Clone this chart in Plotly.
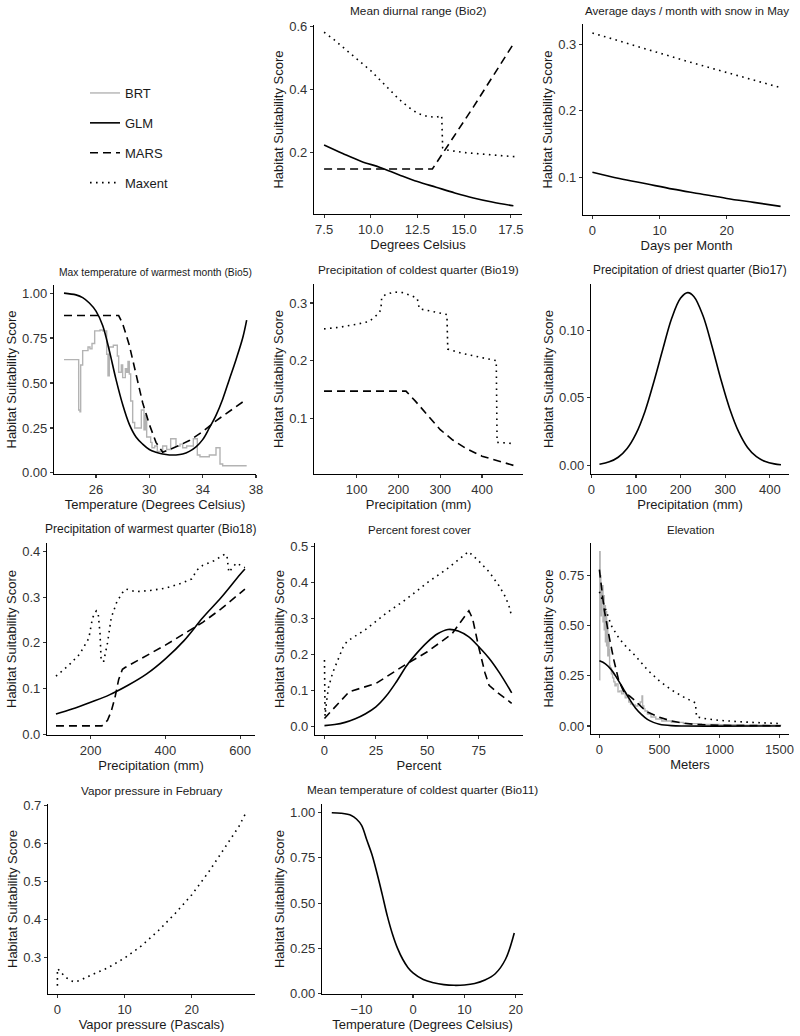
import plotly.graph_objects as go

# ======================= DATA =======================
# Panel: Mean diurnal range (Bio2)
bio2_glm_x = [7.5, 8.5, 9.5, 10.5, 11.5, 12.5, 13.5, 14.5, 15.5, 16.5, 17.64]
bio2_glm_y = [0.224, 0.197, 0.172, 0.153, 0.130, 0.108, 0.090, 0.072, 0.056, 0.043, 0.031]
bio2_mars_x = [7.5, 13.3, 15.5, 17.64]
bio2_mars_y = [0.148, 0.148, 0.345, 0.545]
bio2_maxent_x = [7.5, 8.0, 8.5, 9.0, 9.5, 10.0, 10.5, 11.0, 11.5, 12.0, 12.5, 13.0, 13.5, 13.8,
                 13.85, 14.1, 15.0, 16.0, 17.0, 17.7]
bio2_maxent_y = [0.582, 0.56, 0.535, 0.51, 0.485, 0.46, 0.43, 0.40, 0.37, 0.345, 0.325, 0.315, 0.312, 0.317,
                 0.215, 0.208, 0.20, 0.195, 0.19, 0.187]

# Panel: Average days / month with snow in May
snow_glm_x = [0, 4, 8, 12, 16, 20, 24, 28]
snow_glm_y = [0.1075, 0.098, 0.09, 0.082, 0.075, 0.068, 0.062, 0.056]
snow_maxent_x = [0, 7, 14, 21, 28]
snow_maxent_y = [0.3175, 0.296, 0.275, 0.255, 0.235]

# Panel: Max temperature of warmest month (Bio5)
bio5_glm_x = [23.6, 24.5, 25.0, 25.5, 26.0, 26.5, 27.0, 27.5, 28.0, 28.5, 29.0, 29.5, 30.0, 30.5,
              31.0, 31.5, 32.0, 32.5, 33.0, 33.5, 34.0, 34.5, 35.0, 35.5, 36.0, 36.5, 37.0, 37.3]
bio5_glm_y = [1.00, 0.99, 0.975, 0.945, 0.90, 0.82, 0.68, 0.52, 0.38, 0.27, 0.20, 0.16, 0.13, 0.115,
              0.105, 0.10, 0.10, 0.105, 0.12, 0.145, 0.185, 0.25, 0.32, 0.41, 0.52, 0.63, 0.75, 0.85]
bio5_mars_x = [23.6, 27.7, 28.0, 28.5, 29.0, 29.5, 30.0, 30.5, 31.0, 32.0, 33.0, 34.0, 35.0, 36.0, 37.3]
bio5_mars_y = [0.875, 0.875, 0.83, 0.71, 0.55, 0.39, 0.27, 0.17, 0.115, 0.145, 0.18, 0.23, 0.29, 0.34, 0.41]
bio5_brt_x = [23.6, 24.7, 24.8, 24.85, 25.0, 25.4, 25.55, 25.7, 25.9, 26.3, 26.5, 26.8, 26.9, 27.0, 27.3,
              27.6, 27.7, 27.9, 28.0, 28.2, 28.3, 28.4, 28.5, 28.6, 28.75, 28.9, 29.4, 29.6, 29.7, 29.8,
              30.1, 30.2, 30.4, 30.6, 31.0, 31.3, 31.6, 32.0, 32.3, 32.5, 32.8, 33.3, 33.6, 33.8, 34.5,
              35.0, 35.3, 35.5, 37.3]
bio5_brt_y = [0.63, 0.35, 0.34, 0.60, 0.68, 0.70, 0.69, 0.72, 0.79, 0.795, 0.79, 0.66, 0.54, 0.70, 0.71,
              0.65, 0.56, 0.60, 0.53, 0.58, 0.56, 0.62, 0.55, 0.40, 0.28, 0.25, 0.35, 0.24, 0.32, 0.20,
              0.17, 0.14, 0.15, 0.12, 0.15, 0.13, 0.19, 0.15, 0.16, 0.14, 0.15, 0.19, 0.10, 0.09, 0.10,
              0.14, 0.05, 0.04, 0.04]

# Panel: Precipitation of coldest quarter (Bio19)
bio19_mars_x = [22, 218, 240, 270, 300, 330, 360, 400, 440, 475]
bio19_mars_y = [0.147, 0.147, 0.13, 0.105, 0.08, 0.062, 0.048, 0.034, 0.025, 0.018]
bio19_maxent_x = [22, 60, 100, 130, 150, 158, 160, 170, 190, 210, 230, 245, 250, 270, 300, 316,
                  318, 350, 400, 434, 436, 472]
bio19_maxent_y = [0.255, 0.258, 0.263, 0.268, 0.28, 0.288, 0.31, 0.315, 0.319, 0.318, 0.313, 0.308,
                  0.29, 0.287, 0.283, 0.28, 0.22, 0.213, 0.205, 0.2, 0.058, 0.056]

# Panel: Precipitation of driest quarter (Bio17)
bio17_glm_x = [18, 40, 60, 80, 100, 120, 140, 160, 180, 200, 216, 230, 250, 270, 290, 310, 330,
               350, 370, 390, 410, 425]
bio17_glm_y = [0.0008, 0.0026, 0.006, 0.0125, 0.0235, 0.040, 0.062, 0.086, 0.109, 0.124, 0.128,
               0.125, 0.111, 0.0887, 0.064, 0.042, 0.025, 0.0133, 0.0064, 0.0028, 0.0011, 0.0005]

# Panel: Precipitation of warmest quarter (Bio18)
bio18_glm_x = [107, 150, 200, 250, 300, 350, 400, 450, 500, 550, 600, 613]
bio18_glm_y = [0.044, 0.055, 0.07, 0.086, 0.107, 0.132, 0.165, 0.205, 0.255, 0.30, 0.35, 0.362]
bio18_mars_x = [107, 230, 245, 255, 265, 275, 285, 292, 400, 500, 550, 613]
bio18_mars_y = [0.018, 0.018, 0.03, 0.05, 0.08, 0.12, 0.142, 0.146, 0.195, 0.245, 0.275, 0.318]
bio18_maxent_x = [107, 140, 170, 195, 205, 215, 220, 225, 228, 235, 245, 255, 270, 285, 295, 320,
                  360, 400, 440, 470, 485, 500, 530, 560, 565, 570, 590, 613]
bio18_maxent_y = [0.127, 0.15, 0.175, 0.21, 0.255, 0.27, 0.265, 0.22, 0.16, 0.16, 0.2, 0.255, 0.29,
                  0.31, 0.318, 0.312, 0.315, 0.32, 0.33, 0.34, 0.36, 0.37, 0.38, 0.395, 0.39, 0.355,
                  0.375, 0.365]

# Panel: Percent forest cover
forest_glm_x = [0, 5, 10, 15, 20, 25, 30, 35, 40, 45, 50, 55, 60, 65, 70, 75, 80, 85, 91]
forest_glm_y = [0.003, 0.006, 0.012, 0.022, 0.036, 0.055, 0.085, 0.125, 0.17, 0.205, 0.235, 0.258,
                0.27, 0.266, 0.25, 0.222, 0.19, 0.15, 0.094]
forest_mars_x = [0, 12, 25, 39, 50, 62, 70.2, 72, 75, 78, 80, 84, 88, 91]
forest_mars_y = [0.023, 0.097, 0.12, 0.171, 0.208, 0.258, 0.322, 0.30, 0.22, 0.15, 0.115, 0.095,
                 0.078, 0.065]
forest_maxent_x = [0, 0.3, 1, 2, 4, 6, 9, 11, 20, 30, 40, 50, 60, 70, 75, 80, 85, 88, 90, 91]
forest_maxent_y = [0.185, 0.03, 0.07, 0.11, 0.15, 0.18, 0.22, 0.237, 0.27, 0.315, 0.355, 0.40, 0.44,
                   0.486, 0.46, 0.43, 0.39, 0.36, 0.33, 0.305]

# Panel: Elevation
elev_glm_x = [0, 50, 100, 150, 200, 250, 300, 350, 400, 450, 500, 600, 700, 1510]
elev_glm_y = [0.325, 0.31, 0.28, 0.235, 0.185, 0.135, 0.09, 0.058, 0.033, 0.018, 0.009, 0.002, 0.0, 0.0]
elev_mars_x = [0, 40, 80, 120, 160, 200, 250, 300, 350, 400, 500, 600, 700, 800, 1000, 1510]
elev_mars_y = [0.78, 0.58, 0.45, 0.33, 0.23, 0.175, 0.15, 0.125, 0.095, 0.07, 0.043, 0.025, 0.014,
               0.008, 0.003, 0.001]
elev_maxent_x = [0, 50, 100, 150, 200, 300, 400, 500, 600, 700, 800, 810, 900, 1000, 1200, 1510]
elev_maxent_y = [0.67, 0.58, 0.5, 0.45, 0.41, 0.35, 0.28, 0.225, 0.18, 0.145, 0.115, 0.045, 0.035,
                 0.028, 0.02, 0.012]
elev_brt_x = [0, 3, 6, 9, 12, 16, 20, 25, 30, 35, 40, 45, 50, 55, 60, 65, 70, 75, 80, 85, 90, 100,
              110, 120, 130, 140, 155, 170, 185, 200, 215, 230, 245, 260, 280, 300, 320, 340, 355,
              360, 370, 380, 400, 430, 470, 520, 600, 700, 850, 1000, 1200, 1510]
elev_brt_y = [0.23, 0.87, 0.60, 0.75, 0.55, 0.68, 0.62, 0.70, 0.52, 0.65, 0.48, 0.60, 0.42, 0.57,
              0.40, 0.52, 0.35, 0.45, 0.38, 0.30, 0.29, 0.26, 0.24, 0.22, 0.20, 0.21, 0.17, 0.175,
              0.16, 0.17, 0.14, 0.15, 0.12, 0.11, 0.105, 0.10, 0.11, 0.12, 0.15, 0.10, 0.085, 0.075,
              0.06, 0.045, 0.035, 0.025, 0.018, 0.012, 0.008, 0.006, 0.004, 0.003]

# Panel: Vapor pressure in February
vapor_maxent_x = [0, 0, 0.5, 1, 2, 2.6, 3.5, 5, 7.5, 10, 12.5, 15, 17.5, 20, 22.5, 25, 27, 28.1]
vapor_maxent_y = [0.225, 0.27, 0.262, 0.25, 0.238, 0.235, 0.24, 0.253, 0.272, 0.298, 0.33, 0.37,
                  0.415, 0.465, 0.525, 0.59, 0.645, 0.683]

# Panel: Mean temperature of coldest quarter (Bio11)
bio11_glm_x = [-15.8, -14, -12, -11, -10, -9, -8, -7, -6, -5, -4, -3, -2, -1, 0, 2, 4, 6, 8, 10,
               12, 14, 16, 18, 19.7]
bio11_glm_y = [1.0, 0.997, 0.985, 0.965, 0.93, 0.85, 0.77, 0.665, 0.55, 0.43, 0.33, 0.25, 0.19,
               0.145, 0.115, 0.078, 0.06, 0.05, 0.046, 0.048, 0.056, 0.075, 0.11, 0.19, 0.335]

# Tick values / labels
bio2_xticks = [7.5, 10, 12.5, 15, 17.5]
bio2_xlabels = ["7.5", "10.0", "12.5", "15.0", "17.5"]
bio2_yticks = [0.2, 0.4, 0.6]
bio2_ylabels = ["0.2", "0.4", "0.6"]
snow_xticks = [0, 10, 20]
snow_yticks = [0.1, 0.2, 0.3]
bio5_xticks = [26, 30, 34, 38]
bio5_yticks = [0, 0.25, 0.5, 0.75, 1.0]
bio5_ylabels = ["0.00", "0.25", "0.50", "0.75", "1.00"]
bio19_xticks = [100, 200, 300, 400]
bio19_yticks = [0.1, 0.2, 0.3]
bio17_xticks = [0, 100, 200, 300, 400]
bio17_yticks = [0, 0.05, 0.10]
bio17_ylabels = ["0.00", "0.05", "0.10"]
bio18_xticks = [200, 400, 600]
bio18_yticks = [0, 0.1, 0.2, 0.3, 0.4]
bio18_ylabels = ["0.0", "0.1", "0.2", "0.3", "0.4"]
forest_xticks = [0, 25, 50, 75]
forest_yticks = [0, 0.1, 0.2, 0.3, 0.4, 0.5]
forest_ylabels = ["0.0", "0.1", "0.2", "0.3", "0.4", "0.5"]
elev_xticks = [0, 500, 1000, 1500]
elev_yticks = [0, 0.25, 0.5, 0.75]
elev_ylabels = ["0.00", "0.25", "0.50", "0.75"]
vapor_xticks = [0, 10, 20]
vapor_yticks = [0.3, 0.4, 0.5, 0.6, 0.7]
bio11_xticks = [-10, 0, 10, 20]
bio11_xlabels = ["\u221210", "0", "10", "20"]
bio11_yticks = [0, 0.25, 0.5, 0.75, 1.0]
bio11_ylabels = ["0.00", "0.25", "0.50", "0.75", "1.00"]

models = ["BRT", "GLM", "MARS", "Maxent"]

# ======================= LAYOUT / STYLE =======================
W, H = 800, 1036
FONT = "Liberation Sans, Arial, Helvetica, sans-serif"
YTITLE = "Habitat Suitability Score"
TXT = "#1A1A1A"

styles = {
    "BRT": dict(color="#B3B3B3", width=1.4, dash="solid", shape="hv"),
    "GLM": dict(color="#000000", width=1.6, dash="solid", shape="spline"),
    "MARS": dict(color="#000000", width=1.6, dash="8px,5px", shape="linear"),
    "Maxent": dict(color="#000000", width=1.6, dash="1.6px,4.4px", shape="linear"),
}

def labels(vals):
    return [str(v) for v in vals]

panels = [
    dict(title="Mean diurnal range (Bio2)", tsize=11.8, xtitle="Degrees Celsius",
         box=(314, 522, 25, 214), xr=[6.96, 18.1], yr=[0.005, 0.605],
         xt=bio2_xticks, xtt=bio2_xlabels, yt=bio2_yticks, ytt=bio2_ylabels,
         series=[("GLM", bio2_glm_x, bio2_glm_y), ("MARS", bio2_mars_x, bio2_mars_y),
                 ("Maxent", bio2_maxent_x, bio2_maxent_y)]),
    dict(title="Average days / month with snow in May", tsize=11.6, xtitle="Days per Month",
         box=(583, 790, 24, 215), xr=[-1.4, 29.4], yr=[0.043, 0.331],
         xt=snow_xticks, xtt=labels(snow_xticks), yt=snow_yticks, ytt=labels(snow_yticks),
         series=[("GLM", snow_glm_x, snow_glm_y), ("Maxent", snow_maxent_x, snow_maxent_y)]),
    dict(title="Max temperature of warmest month (Bio5)", tsize=10.3,
         xtitle="Temperature (Degrees Celsius)",
         box=(54, 256, 285, 474), xr=[22.85, 38.0], yr=[-0.006, 1.045],
         xt=bio5_xticks, xtt=labels(bio5_xticks), yt=bio5_yticks, ytt=bio5_ylabels,
         series=[("BRT", bio5_brt_x, bio5_brt_y), ("GLM", bio5_glm_x, bio5_glm_y),
                 ("MARS", bio5_mars_x, bio5_mars_y)]),
    dict(title="Precipitation of coldest quarter (Bio19)", tsize=11.8, xtitle="Precipitation (mm)",
         box=(314, 523, 284, 474), xr=[-2, 498], yr=[0.003, 0.333],
         xt=bio19_xticks, xtt=labels(bio19_xticks), yt=bio19_yticks, ytt=labels(bio19_yticks),
         series=[("MARS", bio19_mars_x, bio19_mars_y), ("Maxent", bio19_maxent_x, bio19_maxent_y)]),
    dict(title="Precipitation of driest quarter (Bio17)", tsize=11.9, xtitle="Precipitation (mm)",
         box=(591, 789, 284, 474), xr=[-1, 443], yr=[-0.0064, 0.1344],
         xt=bio17_xticks, xtt=labels(bio17_xticks), yt=bio17_yticks, ytt=bio17_ylabels,
         series=[("GLM", bio17_glm_x, bio17_glm_y)]),
    dict(title="Precipitation of warmest quarter (Bio18)", tsize=12.0, xtitle="Precipitation (mm)",
         box=(47, 255, 543, 735), xr=[83, 640], yr=[-0.002, 0.419],
         xt=bio18_xticks, xtt=labels(bio18_xticks), yt=bio18_yticks, ytt=bio18_ylabels,
         series=[("GLM", bio18_glm_x, bio18_glm_y), ("MARS", bio18_mars_x, bio18_mars_y),
                 ("Maxent", bio18_maxent_x, bio18_maxent_y)]),
    dict(title="Percent forest cover", tsize=11.5, xtitle="Percent",
         box=(315, 523, 543, 735), xr=[-4.6, 96.5], yr=[-0.023, 0.51],
         xt=forest_xticks, xtt=labels(forest_xticks), yt=forest_yticks, ytt=forest_ylabels,
         series=[("GLM", forest_glm_x, forest_glm_y), ("MARS", forest_mars_x, forest_mars_y),
                 ("Maxent", forest_maxent_x, forest_maxent_y)]),
    dict(title="Elevation", tsize=11.5, xtitle="Meters",
         box=(591, 789, 543, 734), xr=[-70, 1580], yr=[-0.04, 0.913],
         xt=elev_xticks, xtt=labels(elev_xticks), yt=elev_yticks, ytt=elev_ylabels,
         series=[("BRT", elev_brt_x, elev_brt_y), ("GLM", elev_glm_x, elev_glm_y),
                 ("MARS", elev_mars_x, elev_mars_y), ("Maxent", elev_maxent_x, elev_maxent_y)]),
    dict(title="Vapor pressure in February", tsize=11.7, xtitle="Vapor pressure (Pascals)",
         box=(48, 255, 804, 994), xr=[-1.4, 29.4], yr=[0.203, 0.7045],
         xt=vapor_xticks, xtt=labels(vapor_xticks), yt=vapor_yticks, ytt=labels(vapor_yticks),
         series=[("Maxent", vapor_maxent_x, vapor_maxent_y)]),
    dict(title="Mean temperature of coldest quarter (Bio11)", tsize=11.8,
         xtitle="Temperature (Degrees Celsius)",
         box=(322, 523, 804, 994), xr=[-17.7, 21.4], yr=[-0.002, 1.048],
         xt=bio11_xticks, xtt=bio11_xlabels, yt=bio11_yticks, ytt=bio11_ylabels,
         series=[("GLM", bio11_glm_x, bio11_glm_y)]),
]

fig = go.Figure()
layout = {}
annotations = []
shown = set()

for i, p in enumerate(panels, start=1):
    sfx = "" if i == 1 else str(i)
    left, right, top, bottom = p["box"]
    xdom = [left / W, right / W]
    ydom = [1 - bottom / H, 1 - top / H]
    axis_common = dict(
        showline=True, linecolor="#000000", linewidth=1.1, mirror=False,
        showgrid=False, zeroline=False, ticks="outside", ticklen=3, tickwidth=1.1,
        tickcolor="#333333", tickfont=dict(family=FONT, size=13, color="#333333"),
        fixedrange=True, automargin=False,
    )
    layout["xaxis" + sfx] = dict(
        axis_common, domain=xdom, anchor="y" + sfx, range=p["xr"],
        tickmode="array", tickvals=p["xt"], ticktext=p["xtt"],
        title=dict(text=p["xtitle"], font=dict(family=FONT, size=13, color=TXT), standoff=1),
    )
    layout["yaxis" + sfx] = dict(
        axis_common, domain=ydom, anchor="x" + sfx, range=p["yr"],
        tickmode="array", tickvals=p["yt"], ticktext=p["ytt"],
        title=dict(text=YTITLE, font=dict(family=FONT, size=13, color=TXT), standoff=2),
    )
    annotations.append(dict(
        text=p["title"], x=(xdom[0] + xdom[1]) / 2, y=ydom[1], xref="paper", yref="paper",
        xanchor="center", yanchor="bottom", yshift=5, showarrow=False,
        font=dict(family=FONT, size=p["tsize"], color=TXT),
    ))
    for model, xs, ys in p["series"]:
        st = styles[model]
        first = model not in shown
        shown.add(model)
        fig.add_trace(go.Scatter(
            x=xs, y=ys, mode="lines", name=model, legendgroup=model,
            legendrank=models.index(model) + 1, showlegend=first,
            line=dict(color=st["color"], width=st["width"], dash=st["dash"], shape=st["shape"]),
            xaxis="x" + sfx, yaxis="y" + sfx, hoverinfo="skip",
        ))

fig.update_layout(
    **layout,
    annotations=annotations,
    width=W, height=H,
    margin=dict(l=0, r=0, t=0, b=0, pad=0, autoexpand=False),
    paper_bgcolor="#FFFFFF", plot_bgcolor="#FFFFFF",
    font=dict(family=FONT, size=13, color=TXT),
    showlegend=True,
    legend=dict(
        x=85 / W, y=1 - 78 / H, xanchor="left", yanchor="top",
        font=dict(family=FONT, size=13, color=TXT),
        tracegroupgap=10, traceorder="grouped", bgcolor="rgba(0,0,0,0)", itemwidth=30,
    ),
)

fig.write_html(
    "out.html",
    config={"displayModeBar": False, "staticPlot": True},
    post_script="document.body.style.margin='0px'; document.body.style.overflow='hidden';",
)
